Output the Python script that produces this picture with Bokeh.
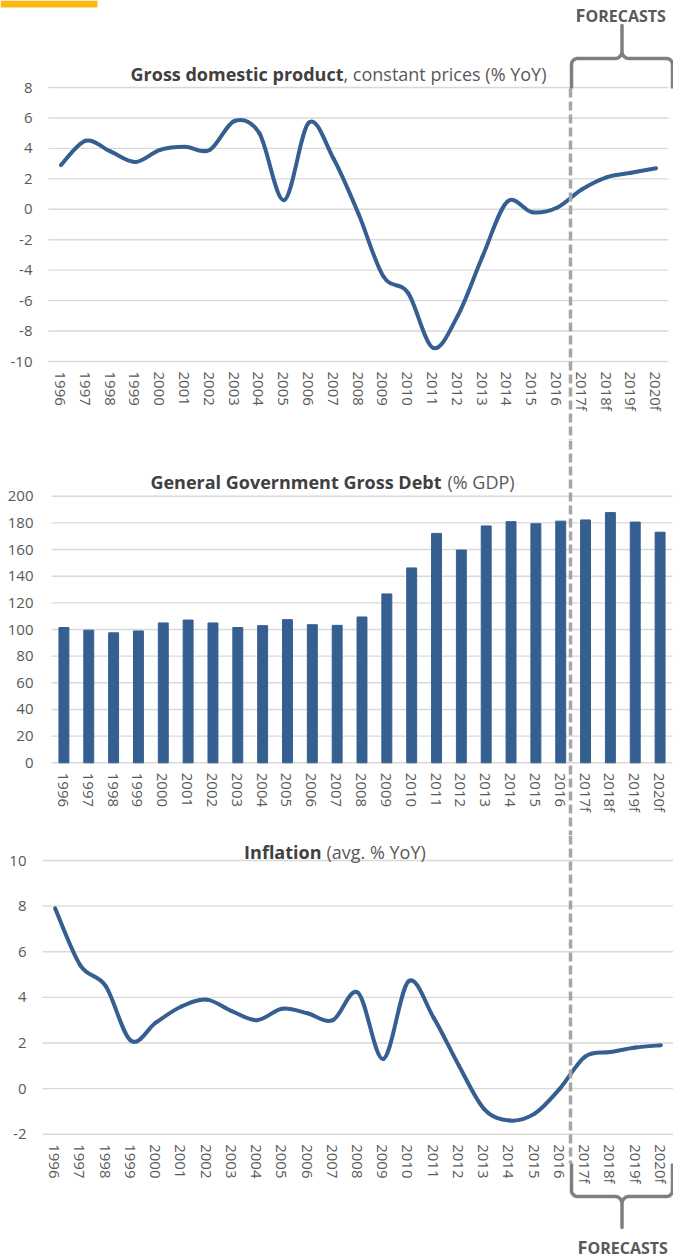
import numpy as np
from bokeh.plotting import figure
from bokeh.layouts import column
from bokeh.models import Range1d, FixedTicker, Label
from bokeh.embed import file_html
from bokeh.resources import INLINE

# ---- data -------------------------------------------------------------
years = ["1996", "1997", "1998", "1999", "2000", "2001", "2002", "2003",
         "2004", "2005", "2006", "2007", "2008", "2009", "2010", "2011",
         "2012", "2013", "2014", "2015", "2016", "2017f", "2018f", "2019f",
         "2020f"]

gdp_growth = [2.9, 4.5, 3.8, 3.1, 3.9, 4.1, 3.9, 5.8, 5.0, 0.6, 5.7, 3.3,
              -0.3, -4.4, -5.5, -9.1, -7.0, -3.1, 0.5, -0.2, 0.1, 1.3, 2.1,
              2.4, 2.7]

gov_debt = [101.5, 99.5, 97.5, 98.9, 104.9, 107.1, 104.9, 101.5, 102.9,
            107.4, 103.6, 103.1, 109.4, 126.7, 146.2, 172.1, 159.6, 177.7,
            180.9, 179.4, 181.3, 182.2, 187.7, 180.6, 173.0]

inflation = [7.9, 5.4, 4.5, 2.1, 2.9, 3.6, 3.9, 3.4, 3.0, 3.5, 3.3, 3.0,
             4.2, 1.3, 4.7, 3.1, 1.0, -0.9, -1.4, -1.1, 0.0, 1.4, 1.6, 1.8,
             1.9]

gdp_ticks = [-10, -8, -6, -4, -2, 0, 2, 4, 6, 8]
debt_ticks = [0, 20, 40, 60, 80, 100, 120, 140, 160, 180, 200]
infl_ticks = [-2, 0, 2, 4, 6, 8, 10]

# ---- style ------------------------------------------------------------
W = 673
FONT = "Open Sans"
BLUE = "#365F91"
GRID = "#D9D9D9"
TICK_TXT = "#595959"
TITLE_TXT = "#404040"
DASH = "#A6A6A6"
BRACE = "#7F7F7F"
ACCENT = "#FDB913"
N = len(years)
IDX = list(range(N))


def make_chart(top, height, x_left, x_right, t_hi, t_hi_px, t_lo, t_lo_px,
               ticks, y_standoff):
    """One chart band. The frame fills the whole band (both axes are pinned
    inside it), so the forecast divider and notes can cross the label areas."""
    step = (x_right - x_left) / N
    ppu = (t_lo_px - t_hi_px) / (t_hi - t_lo)

    def cx(px):
        return -0.5 + (px - x_left) / step

    def cy(py):
        return t_hi - (py - t_hi_px) / ppu

    p = figure(width=W, height=height,
               x_range=Range1d(cx(0), cx(W)),
               y_range=Range1d(cy(top + height), cy(top)),
               output_backend="svg", toolbar_location=None, tools="",
               min_border_left=0, min_border_right=0,
               min_border_top=0, min_border_bottom=0,
               outline_line_color=None, background_fill_color="white",
               border_fill_color="white")
    p.xgrid.visible = False
    p.ygrid.visible = False

    # horizontal gridlines across the category bands
    p.segment(x0=[-0.5] * len(ticks), x1=[N - 0.5] * len(ticks),
              y0=ticks, y1=ticks, line_color=GRID, line_width=1.4)

    ya = p.yaxis[0]
    ya.ticker = FixedTicker(ticks=ticks)
    ya.major_label_overrides = {t: str(t) for t in ticks}
    ya.fixed_location = -0.5
    ya.axis_line_color = None
    ya.major_tick_line_color = None
    ya.minor_tick_line_color = None
    ya.major_tick_in = 0
    ya.major_tick_out = 0
    ya.major_label_standoff = y_standoff
    ya.major_label_text_font = FONT
    ya.major_label_text_font_size = "15px"
    ya.major_label_text_color = TICK_TXT

    xa = p.xaxis[0]
    xa.ticker = FixedTicker(ticks=IDX)
    xa.major_label_overrides = {i: y for i, y in enumerate(years)}
    xa.major_label_orientation = "vertical"
    xa.fixed_location = t_lo
    xa.axis_line_color = None
    xa.major_tick_line_color = None
    xa.minor_tick_line_color = None
    xa.major_tick_in = 0
    xa.major_tick_out = 0
    xa.major_label_standoff = 10
    xa.major_label_text_font = FONT
    xa.major_label_text_font_size = "15px"
    xa.major_label_text_color = TICK_TXT

    return p, cx, cy


def smooth_line(p, ys, **kw):
    """Smoothed line through the points (cubic Bezier, Catmull-Rom style)."""
    xs = np.array(IDX, dtype=float)
    ys = np.array(ys, dtype=float)
    n = len(xs)
    x0, y0, x1, y1, c0x, c0y, c1x, c1y = ([] for _ in range(8))
    for i in range(n - 1):
        a = max(i - 1, 0)
        d = min(i + 2, n - 1)
        x0.append(xs[i]); y0.append(ys[i])
        x1.append(xs[i + 1]); y1.append(ys[i + 1])
        c0x.append(xs[i] + (xs[i + 1] - xs[a]) / 6)
        c0y.append(ys[i] + (ys[i + 1] - ys[a]) / 6)
        c1x.append(xs[i + 1] - (xs[d] - xs[i]) / 6)
        c1y.append(ys[i + 1] - (ys[d] - ys[i]) / 6)
    p.bezier(x0=x0, y0=y0, x1=x1, y1=y1, cx0=c0x, cy0=c0y, cx1=c1x,
             cy1=c1y, line_cap="round", **kw)


def title(p, cx, cy, x_join, y_mid, bold, rest, gap=0):
    p.add_layout(Label(x=cx(x_join), y=cy(y_mid), text=bold,
                       text_align="right", text_baseline="middle",
                       text_font=FONT, text_font_style="bold",
                       text_font_size="18px", text_color=TITLE_TXT))
    p.add_layout(Label(x=cx(x_join + gap), y=cy(y_mid), text=rest,
                       text_align="left", text_baseline="middle",
                       text_font=FONT, text_font_size="18px",
                       text_color=TICK_TXT))


def brace(p, cx, cy, xl, xr, y_leg, y_bar, y_tip, r=6.0, r2=7.0):
    """Curly brace: legs at xl/xr, bar at y_bar, tip at y_tip (pixels)."""
    sgn = 1.0 if y_tip > y_bar else -1.0
    xm = (xl + xr) / 2
    pts = [(xl, y_leg)]
    t = np.linspace(np.pi, np.pi - sgn * np.pi / 2, 10)
    ccx, ccy = xl + r, y_bar - sgn * r
    pts += list(zip(ccx + r * np.cos(t), ccy + r * np.sin(t)))
    t = np.linspace(-sgn * np.pi / 2, 0, 10)
    ccx, ccy = xm - r2, y_bar + sgn * r2
    pts += list(zip(ccx + r2 * np.cos(t), ccy + r2 * np.sin(t)))
    pts.append((xm, y_tip))
    right = [(2 * xm - x, y) for (x, y) in reversed(pts[:-1])]
    pts += right
    p.line([cx(x) for x, _ in pts], [cy(y) for _, y in pts],
           line_color=BRACE, line_width=3.5, line_join="round",
           line_cap="butt")


def forecasts(p, cx, cy, x_join, y_mid):
    p.add_layout(Label(x=cx(x_join), y=cy(y_mid), text="F",
                       text_align="right", text_baseline="middle",
                       text_font=FONT, text_font_style="bold",
                       text_font_size="18px", text_color=TICK_TXT))
    p.add_layout(Label(x=cx(x_join), y=cy(y_mid + 1), text="ORECASTS",
                       text_align="left", text_baseline="middle",
                       text_font=FONT, text_font_style="bold",
                       text_font_size="16px", text_color=TICK_TXT))


def divider(p, cx, cy, y_from, y_to, x_px=570):
    p.segment(x0=[cx(x_px)], x1=[cx(x_px)], y0=[cy(y_from)], y1=[cy(y_to)],
              line_color=DASH, line_width=3.5, line_dash="9 4")


# ---- GDP growth ---------------------------------------------------------
p1, cx1, cy1 = make_chart(0, 440, 48, 668, 8, 87, -10, 361, gdp_ticks, 16)
# accent strip in the top-left corner
p1.quad(left=[cx1(0)], right=[cx1(97)], top=[cy1(0)], bottom=[cy1(7)],
        fill_color=ACCENT, line_color=None)
smooth_line(p1, gdp_growth, line_color=BLUE, line_width=4)
title(p1, cx1, cy1, 343, 73, "Gross domestic product",
      ", constant prices (% YoY)")
divider(p1, cx1, cy1, 88, 440)
brace(p1, cx1, cy1, 571, 672, 88, 58, 25)
forecasts(p1, cx1, cy1, 585, 14)

# ---- government debt ----------------------------------------------------
p2, cx2, cy2 = make_chart(440, 395, 51, 672, 200, 495.7, 0, 762.3,
                          debt_ticks, 18)
p2.vbar(x=IDX, top=gov_debt, width=0.4, bottom=0, color=BLUE)
title(p2, cx2, cy2, 441, 481, "General Government Gross Debt", "(% GDP)",
      gap=6)
divider(p2, cx2, cy2, 440, 835)

# ---- inflation -----------------------------------------------------------
p3, cx3, cy3 = make_chart(835, 423, 42, 673, 10, 860, -2, 1133.7,
                          infl_ticks, 16)
smooth_line(p3, inflation, line_color=BLUE, line_width=4)
title(p3, cx3, cy3, 321, 851, "Inflation", "(avg. % YoY)", gap=5)
divider(p3, cx3, cy3, 835, 1163)
brace(p3, cx3, cy3, 571, 672, 1163, 1196, 1227)
forecasts(p3, cx3, cy3, 587, 1246)

page = column(p1, p2, p3, spacing=0)

with open("out.html", "w") as f:
    f.write(file_html(page, INLINE))
